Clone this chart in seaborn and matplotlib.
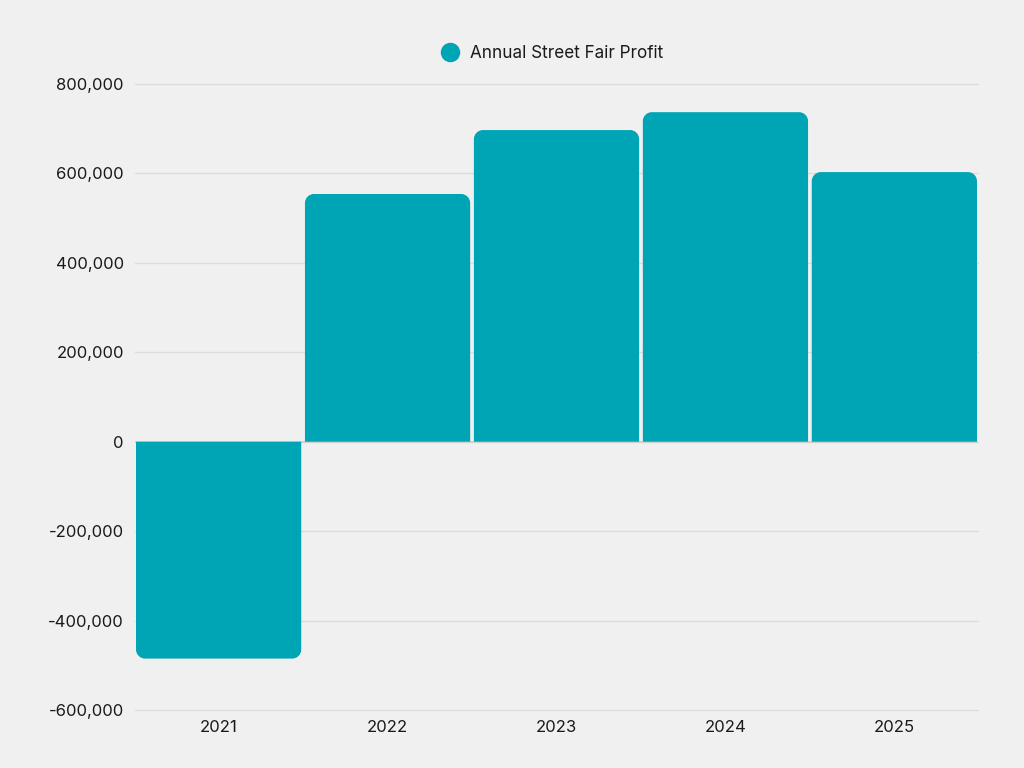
import numpy as np
import pandas as pd
import matplotlib
matplotlib.use("Agg")
import matplotlib.pyplot as plt
import seaborn as sns
from matplotlib.path import Path
from matplotlib.patches import PathPatch
from matplotlib.lines import Line2D
from matplotlib.ticker import FuncFormatter

years = ["2021", "2022", "2023", "2024", "2025"]
profit = [-485000, 554000, 697000, 737000, 603000]
series_name = "Annual Street Fair Profit"
y_ticks = [-600000, -400000, -200000, 0, 200000, 400000, 600000, 800000]

BG = "#f0f0f0"
BAR = "#00a5b5"

sns.set_theme(style="white")
plt.rcParams['font.family'] = ['Inter', 'DejaVu Sans']

df = pd.DataFrame({"year": years, "profit": profit})

fig = plt.figure(figsize=(10.24, 7.68), dpi=100, facecolor=BG)
ax = fig.add_axes([135/1024, 1-710/768, (978-135)/1024, (710-84)/768])
ax.set_facecolor(BG)

sns.barplot(data=df, x="year", y="profit", color=BAR, saturation=1, width=0.978, ax=ax, zorder=3)

ax.set_ylim(min(y_ticks), max(y_ticks))
ax.set_xlim(-0.495, len(years) - 0.505)
ax.set_yticks(y_ticks)
ax.yaxis.set_major_formatter(FuncFormatter(lambda v, p: f"{int(v):,}"))
ax.grid(axis="y", color="#dcdcdc", linewidth=1, zorder=0)
ax.grid(axis="x", visible=False)
for gl in ax.yaxis.get_gridlines():
    gl.set_clip_on(False)
for s in ax.spines.values():
    s.set_visible(False)
ax.tick_params(axis="both", length=0, labelsize=12, colors="#1a1a1a")
ax.tick_params(axis="x", pad=7)
ax.tick_params(axis="y", pad=8)
ax.set_xlabel("")
ax.set_ylabel("")
ax.axhline(0, color="#cfcfcf", linewidth=1.2, zorder=1)

# rounded outer corners
fig.canvas.draw()
bbox = ax.get_window_extent()
px_x = bbox.width / (ax.get_xlim()[1] - ax.get_xlim()[0])
px_y = bbox.height / (ax.get_ylim()[1] - ax.get_ylim()[0])
r_px = 9
rx, ry = r_px / px_x, r_px / px_y
k = 0.5523
for patch in list(ax.patches):
    x0 = patch.get_x(); w = patch.get_width()
    y0 = patch.get_y(); h = patch.get_height()
    x1 = x0 + w
    b, t = y0, y0 + h
    sgn = 1 if h >= 0 else -1
    ryy = ry * sgn
    verts = [(x0, b), (x0, t - ryy),
             (x0, t - ryy + k * ryy), (x0 + rx - k * rx, t), (x0 + rx, t),
             (x1 - rx, t),
             (x1 - rx + k * rx, t), (x1, t - ryy + k * ryy), (x1, t - ryy),
             (x1, b), (x0, b)]
    codes = [Path.MOVETO, Path.LINETO,
             Path.CURVE4, Path.CURVE4, Path.CURVE4,
             Path.LINETO,
             Path.CURVE4, Path.CURVE4, Path.CURVE4,
             Path.LINETO, Path.CLOSEPOLY]
    pp = PathPatch(Path(verts, codes), facecolor=BAR, edgecolor="none", zorder=3)
    ax.add_patch(pp)
    patch.remove()

handle = Line2D([], [], marker="o", linestyle="none", markersize=13,
                markerfacecolor=BAR, markeredgecolor=BAR)
fig.legend([handle], [series_name], loc="center", bbox_to_anchor=(548/1024, 1-53/768),
           frameon=False, fontsize=12.3, handletextpad=0.2, labelcolor="#1a1a1a")

fig.savefig("out.png", dpi=100, facecolor=BG)
